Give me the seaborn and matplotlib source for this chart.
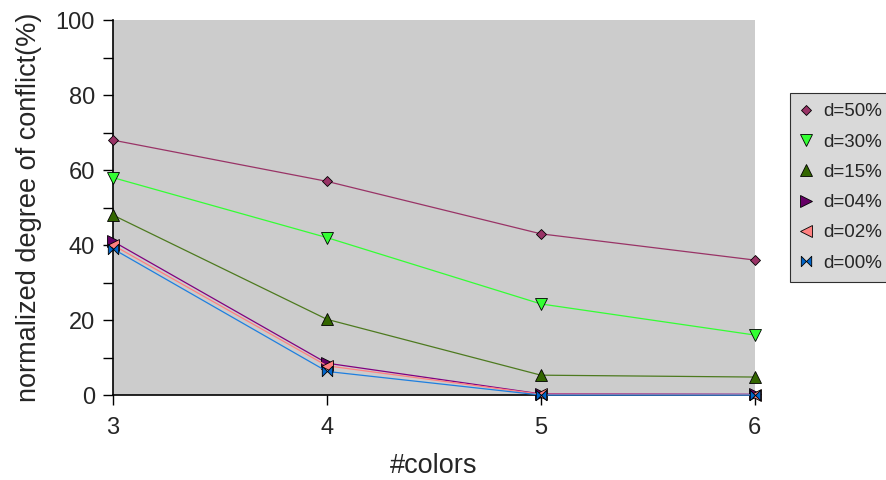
import numpy as np
import pandas as pd
import matplotlib
matplotlib.use("Agg")
import matplotlib.pyplot as plt
import seaborn as sns
from matplotlib.path import Path

colors_x = [3, 4, 5, 6]
series_names = ["d=50%", "d=30%", "d=15%", "d=04%", "d=02%", "d=00%"]
d50 = [68, 57, 43, 36]
d30 = [58, 42, 24.3, 16]
d15 = [48, 20.2, 5.3, 4.8]
d04 = [41, 8.5, 0.3, 0.2]
d02 = [40, 7.8, 0.2, 0.1]
d00 = [39, 6.3, 0.0, 0.0]
values = [d50, d30, d15, d04, d02, d00]

line_colors = ["#993366", "#33FF33", "#4D7A1F", "#800080", "#FF8080", "#1E7FE0"]
marker_faces = ["#993366", "#33FF33", "#336600", "#660066", "#FF8080", "#0066CC"]

bowtie = Path([(-1, 1), (0, 0), (1, 1), (1, -1), (0, 0), (-1, -1), (-1, 1)],
              [Path.MOVETO, Path.LINETO, Path.LINETO, Path.LINETO, Path.LINETO, Path.LINETO, Path.CLOSEPOLY])
markers = ["D", "v", "^", ">", "<", bowtie]
msizes = [5.5, 8, 8, 8, 8, 7.5]

sns.set_theme(style="white")
plt.rcParams["font.family"] = ["Liberation Sans", "DejaVu Sans"]

fig = plt.figure(figsize=(8.86, 4.8), dpi=100)
ax = fig.add_axes([0.1275, 0.177, 0.852 - 0.1275, 0.958 - 0.177])
ax.set_facecolor("#CCCCCC")

for name, vals, lc, mf, mk, ms in zip(series_names, values, line_colors, marker_faces, markers, msizes):
    df = pd.DataFrame({"x": colors_x, "y": vals})
    sns.lineplot(data=df, x="x", y="y", ax=ax, color=lc, linewidth=0.9,
                 marker=mk, markersize=ms, markerfacecolor=mf,
                 markeredgecolor="black", markeredgewidth=0.6,
                 label=name, clip_on=False, zorder=3)

ax.set_xlim(3, 6)
ax.set_ylim(0, 100)
ax.set_xticks(colors_x)
ax.set_xticklabels([str(c) for c in colors_x])
ax.set_yticks([0, 20, 40, 60, 80, 100])
ax.set_yticks([10, 30, 50, 70, 90], minor=True)
ax.tick_params(axis="both", which="major", direction="out", length=7, width=1,
               color="black", labelsize=17, bottom=True, left=True, pad=6)
ax.tick_params(axis="x", which="major", pad=9)
ax.tick_params(axis="y", which="minor", direction="out", length=7, width=1,
               color="black", left=True)
for s in ["top", "right"]:
    ax.spines[s].set_visible(False)
for s in ["left", "bottom"]:
    ax.spines[s].set_color("black")
    ax.spines[s].set_linewidth(1.2)
    ax.spines[s].set_zorder(2)

ax.set_xlabel("#colors", fontsize=19.5, labelpad=10)
ax.set_ylabel("normalized degree of conflict(%)", fontsize=19.5, labelpad=10)

ax.get_legend().remove()
handles, labels = ax.get_legend_handles_labels()
leg = fig.legend(handles, labels, loc="upper left", bbox_to_anchor=(790 / 886, 1 - 93 / 480),
                 fontsize=13.5, frameon=True, fancybox=False, handlelength=0.6,
                 handletextpad=0.6, labelspacing=0.7, borderpad=0.55, borderaxespad=0)
leg.get_frame().set_facecolor("#D0D0D0")
leg.get_frame().set_edgecolor("black")
leg.get_frame().set_linewidth(0.8)
for h in leg.legend_handles:
    h.set_linestyle("None")

fig.savefig("out.png", dpi=100)
